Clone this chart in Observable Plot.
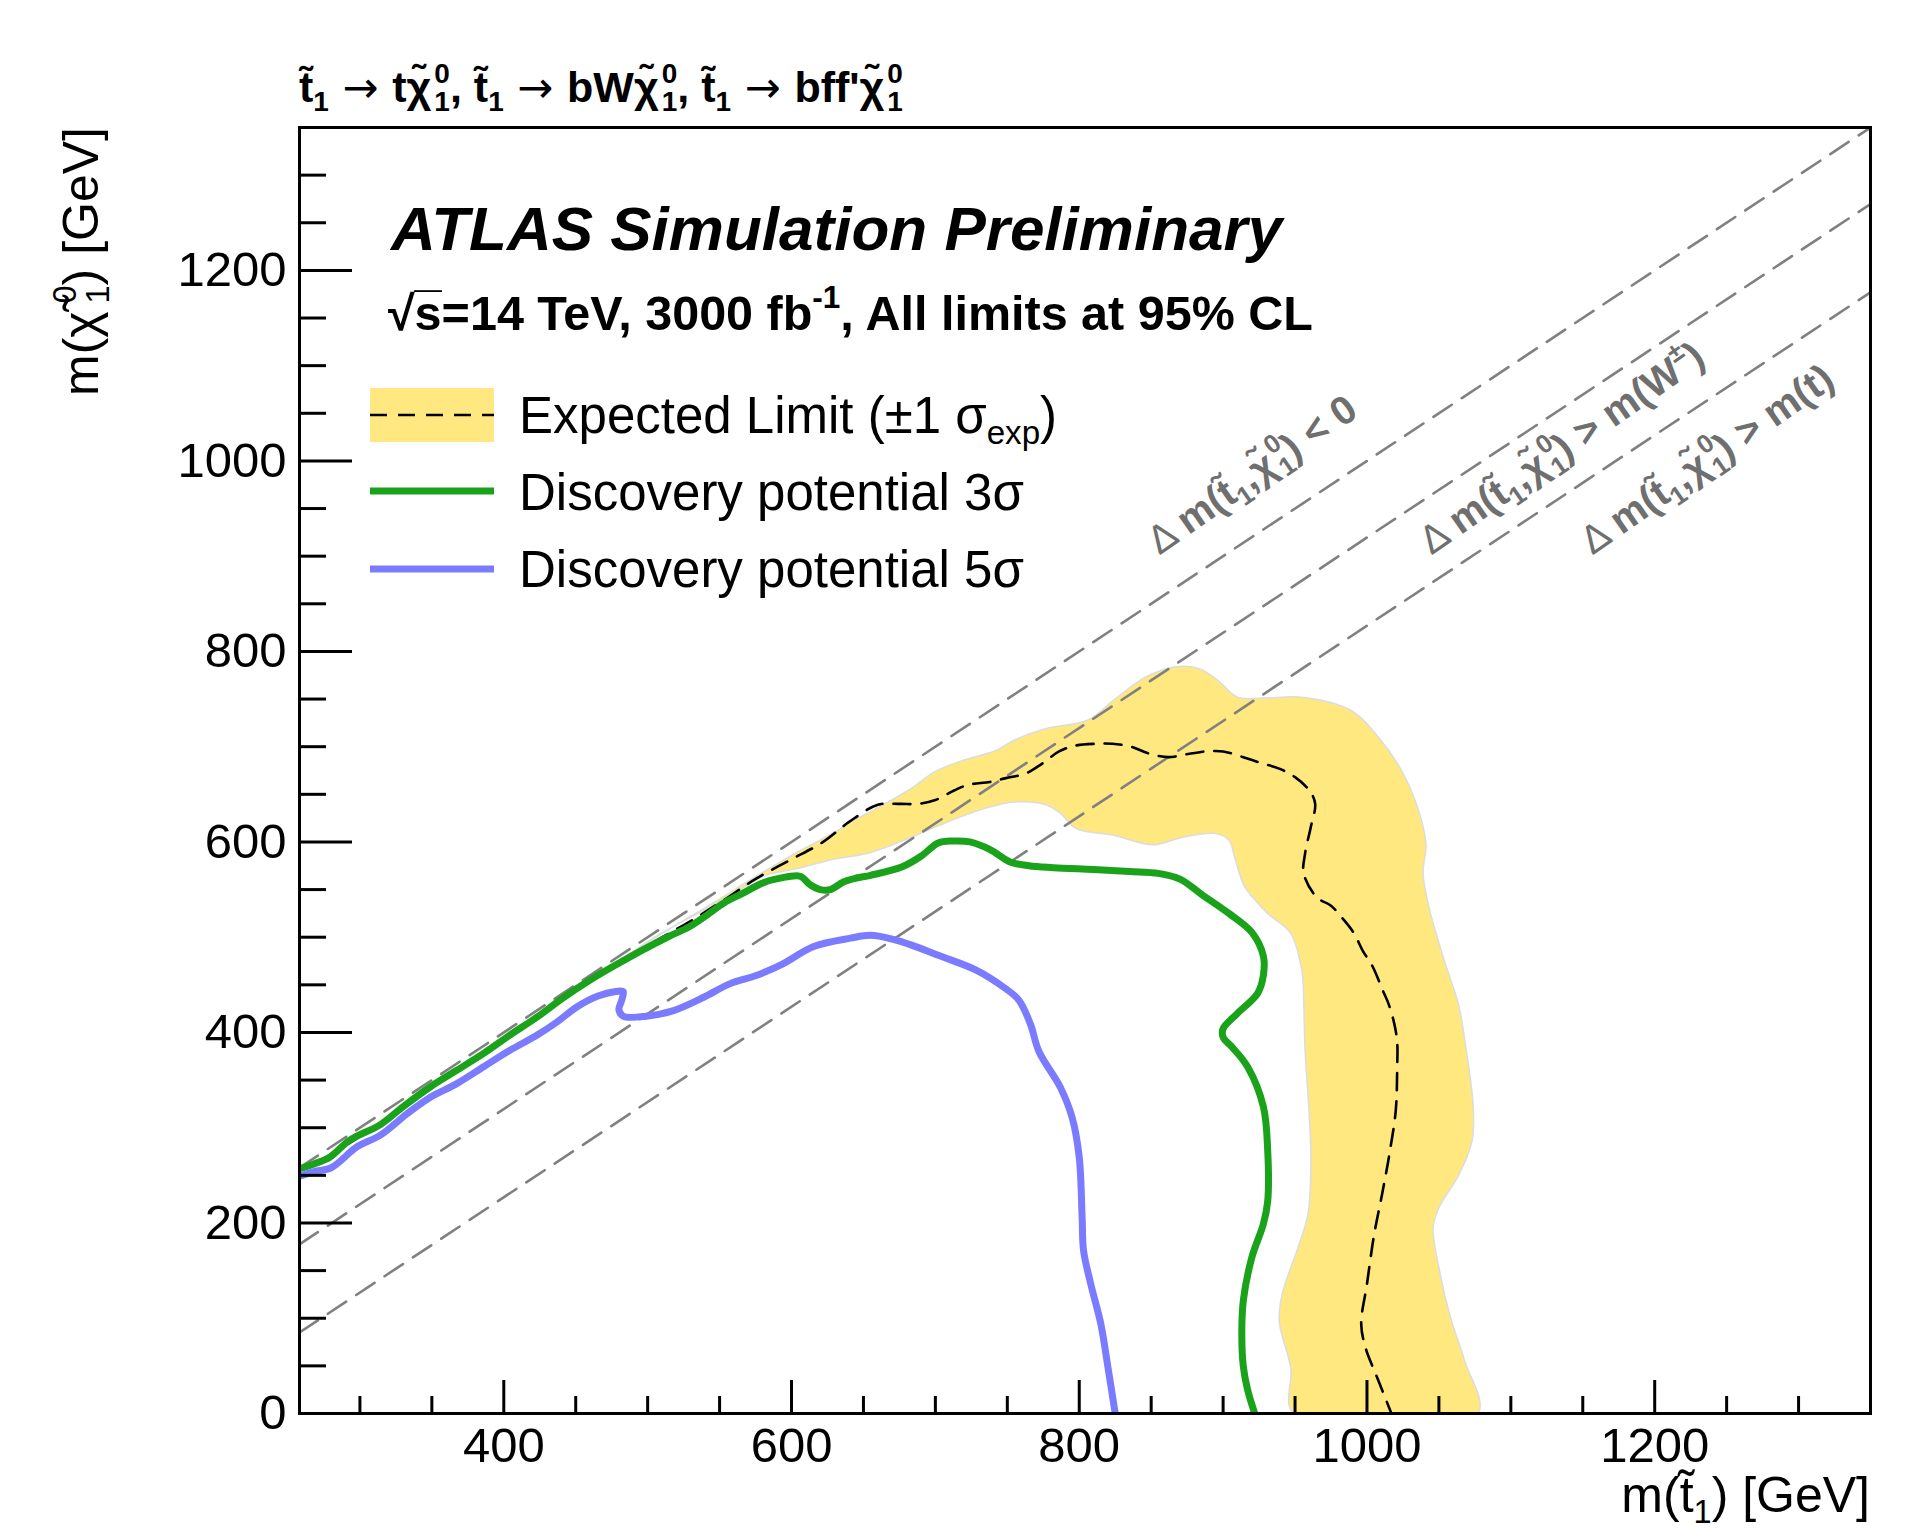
<!DOCTYPE html>
<html><head><meta charset="utf-8">
<script src="https://cdn.jsdelivr.net/npm/d3@7"></script>
<script src="https://cdn.jsdelivr.net/npm/@observablehq/plot@0.6"></script>
<style>
html,body{margin:0;padding:0;background:#fff;}
#chart{position:relative;width:1914px;height:1531px;overflow:hidden;}
</style></head><body><div id="chart"></div>
<script>
// ---- data ----
const xDomain = [258, 1350];
const yDomain = [0, 1350];
const xMajor = [400, 600, 800, 1000, 1200];
const xMinor = [300, 350, 450, 500, 550, 650, 700, 750, 850, 900, 950, 1050, 1100, 1150, 1250, 1300];
const yMajor = [0, 200, 400, 600, 800, 1000, 1200];
const yMinor = [50, 100, 150, 250, 300, 350, 450, 500, 550, 650, 700, 750, 850, 900, 950, 1050, 1100, 1150, 1250, 1300];
const diagOffsets = [0, 80.4, 173]; // Δm = 0, m(W), m(t)

const bandOuter = [[470,465],[490,485],[510,504],[530,522],[550,540],[570,559],[590,577],[605,590],[620,602],[632,612],[640,620],[660,636],[683,656],[700,674],[720,686],[742,696],[755,707],[777,719],[806,728],[824,749],[846,773],[867,784],[883,782],[896,770],[910,752],[928,751],[955,752],[989,738],[1008,710],[1024,675],[1035,637],[1041,598],[1039,567],[1043,532],[1053,479],[1064,427],[1069,381],[1072,350],[1074,318],[1073,286],[1064,251],[1050,216],[1046,195],[1050,153],[1058,101],[1068,55],[1077,0]];
const bandInner = [[949,0],[947,48],[939,97],[941,125],[952,174],[959,209],[961,265],[960,311],[957,381],[956,433],[955,462],[947,504],[931,525],[915,553],[908,584],[904,602],[894,609],[872,605],[851,597],[824,607],[798,614],[787,630],[777,639],[755,642],[734,635],[702,617],[685,606],[655,589],[627,581],[604,572],[580,564],[557,543],[530,521],[505,500],[485,480],[470,465]];

const expected = [[258,257],[280,272],[300,291],[330,321],[360,352],[400,393],[430,423],[462,457],[483,476],[509,499],[531,518],[553,539],[576,562],[599,581],[622,600],[640,621],[660,639],[675,640],[688,640],[700,644],[713,654],[723,660],[738,663],[749,667],[763,672],[774,682],[786,695],[797,701],[811,703],[823,703],[836,700],[848,693],[862,689],[874,692],[888,695],[900,695],[914,689],[926,683],[939,677],[950,668],[960,654],[964,640],[961,616],[957,588],[956,567],[965,542],[975,533],[984,518],[991,504],[997,486],[1004,469],[1011,444],[1015,430],[1019,409],[1021,390],[1021,363],[1020,318],[1016,276],[1011,234],[1005,188],[1000,136],[996,94],[999,69],[1007,38],[1017,0]];

const disc3 = [[258,257],[268,262],[279,269],[293,287],[314,303],[330,322],[349,343],[367,360],[386,378],[404,397],[423,416],[441,436],[460,455],[478,471],[497,487],[515,501],[529,511],[541,523],[553,536],[566,546],[580,557],[592,562],[606,564],[613,555],[620,550],[627,550],[636,558],[645,562],[655,565],[677,574],[690,585],[702,599],[712,601],[724,600],[738,592],[752,579],[765,575],[782,573],[810,571],[835,569],[855,567],[870,561],[885,545],[904,525],[920,505],[928,480],[928,460],[924,441],[910,420],[900,404],[900,395],[906,385],[917,364],[928,322],[931,276],[931,223],[928,199],[920,164],[914,118],[913,83],[914,50],[917,25],[922,0]];

const disc5 = [[258,249],[268,254],[280,258],[298,280],[314,292],[333,315],[349,332],[367,346],[386,364],[404,381],[423,397],[437,411],[451,427],[465,438],[478,443],[483,443],[482,434],[480,424],[483,417],[499,417],[518,423],[539,437],[557,451],[576,460],[594,472],[615,490],[641,499],[655,502],[670,498],[683,492],[702,481],[729,465],[747,448],[758,434],[766,409],[772,380],[787,342],[795,311],[800,269],[802,206],[803,171],[808,136],[815,94],[820,48],[825,0]];

const diagLabelPos = [[856, 900], [1045, 900], [1157, 900]];

// ---- layout ----
const W = 1914, H = 1531, mL = 299, mR = 44, mT = 127, mB = 118;
const fw = W - mL - mR, fh = H - mT - mB;
const FONT = "'Liberation Sans', Arial, Helvetica, sans-serif";
const YELLOW = "#ffe880", GREEN = "#1aa31a", BLUE = "#7b7bff", GRAY = "#808080";

const band = bandOuter.concat(bandInner);
const diag = diagOffsets.flatMap((o, i) => [
  {x: xDomain[0], y: xDomain[0] - o, k: i},
  {x: xDomain[1], y: xDomain[1] - o, k: i}
]);
const fmt = d => String(d);

const plot = Plot.plot({
  width: W, height: H,
  marginLeft: mL, marginRight: mR, marginTop: mT, marginBottom: mB,
  x: {domain: xDomain, axis: null},
  y: {domain: yDomain, axis: null},
  style: {fontFamily: FONT, background: "white", color: "black"},
  marks: [
    Plot.line(band, {x: d => d[0], y: d => d[1], fill: YELLOW, stroke: "#dcdcdc", strokeWidth: 1.5, curve: "catmull-rom", clip: true}),
    Plot.line(diag, {x: "x", y: "y", z: "k", stroke: GRAY, strokeWidth: 2.6, strokeDasharray: "22,12", clip: true}),
    Plot.line(expected, {x: d => d[0], y: d => d[1], stroke: "black", strokeWidth: 2.6, strokeDasharray: "17,11", curve: "catmull-rom", clip: true}),
    Plot.line(disc3, {x: d => d[0], y: d => d[1], stroke: GREEN, strokeWidth: 7, curve: "catmull-rom", clip: true}),
    Plot.line(disc5, {x: d => d[0], y: d => d[1], stroke: BLUE, strokeWidth: 7, curve: "catmull-rom", clip: true}),
    Plot.tickX(xMajor, {x: d => d, insetTop: fh - 33, stroke: "black", strokeWidth: 3}),
    Plot.tickX(xMinor, {x: d => d, insetTop: fh - 17, stroke: "black", strokeWidth: 3}),
    Plot.tickY(yMajor, {y: d => d, insetRight: fw - 53, stroke: "black", strokeWidth: 3}),
    Plot.tickY(yMinor, {y: d => d, insetRight: fw - 27, stroke: "black", strokeWidth: 3}),
    Plot.frame({stroke: "black", strokeWidth: 3}),
    Plot.axisX(xMajor, {tickSize: 0, tickPadding: 14, fontSize: 49, label: null, fill: "black", tickFormat: fmt}),
    Plot.axisY(yMajor, {tickSize: 0, tickPadding: 13, fontSize: 49, label: null, fill: "black", tickFormat: fmt})
  ]
});
document.getElementById("chart").appendChild(plot);

const svg = d3.select(plot);
const sx = plot.scale("x"), sy = plot.scale("y");
const g = svg.append("g").attr("font-family", FONT);

function rich(x, y, parts, o) {
  const size = o.size;
  const t = g.append("text")
    .attr("transform", `translate(${x},${y}) rotate(${o.rotate || 0})`)
    .attr("font-size", size)
    .attr("font-weight", o.weight || "normal")
    .attr("font-style", o.style || "normal")
    .attr("fill", o.fill || "black")
    .attr("text-anchor", o.anchor || "start");
  let cur = 0, prev = null;
  for (const p of parts) {
    const s = typeof p === "string" ? {t: p} : p;
    const fs = (s.sup || s.sub) ? size * 0.65 : size;
    const off = s.sup ? -size * 0.45 : s.sub ? size * 0.22 : 0;
    const ts = t.append("tspan").attr("font-size", fs).attr("dy", off - cur).text(s.t);
    if (s.w) ts.attr("font-weight", s.w);
    if (s.f) ts.attr("font-family", s.f);
    if (s.gap) ts.attr("dx", s.gap * size);
    cur = off;
    if (s.stack && prev) ts.attr("dx", -prev.node().getComputedTextLength());
    prev = ts;
  }
  return t;
}
const T = "t\u0303", CHI = "\u03c7\u0303";
const ARROW = {t: " \u2192 ", f: "'DejaVu Sans', sans-serif", w: "normal"};
const SUP0 = {t: "0", sup: 1, gap: 0.07};
const SUP0W = {t: "0", sup: 1, gap: 0.16};

// top title
rich(299, 102, [T, {t: "1", sub: 1}, ARROW, "t", CHI, SUP0, {t: "1", sub: 1, stack: 1},
  ", ", T, {t: "1", sub: 1}, ARROW, "bW", CHI, SUP0, {t: "1", sub: 1, stack: 1},
  ", ", T, {t: "1", sub: 1}, ARROW, "bff'", CHI, SUP0, {t: "1", sub: 1, stack: 1}],
  {size: 43, weight: "bold"});

// ATLAS label
rich(391, 250, ["ATLAS Simulation Preliminary"], {size: 62, weight: "bold", style: "italic"});
rich(388, 330, ["\u221as\u0305=14 TeV, 3000 fb", {t: "-1", sup: 1}, ", All limits at 95% CL"], {size: 48.5, weight: "bold"});

// legend
g.append("rect").attr("x", 370).attr("y", 388).attr("width", 124).attr("height", 54).attr("fill", YELLOW);
g.append("line").attr("x1", 370).attr("x2", 494).attr("y1", 415).attr("y2", 415)
  .attr("stroke", "black").attr("stroke-width", 2.6).attr("stroke-dasharray", "17,11");
g.append("line").attr("x1", 370).attr("x2", 494).attr("y1", 491).attr("y2", 491)
  .attr("stroke", GREEN).attr("stroke-width", 7);
g.append("line").attr("x1", 370).attr("x2", 494).attr("y1", 569).attr("y2", 569)
  .attr("stroke", BLUE).attr("stroke-width", 7);
rich(519, 433, ["Expected Limit (\u00b11 \u03c3", {t: "exp", sub: 1}, ")"], {size: 51});
rich(519, 510, ["Discovery potential 3\u03c3"], {size: 51});
rich(519, 587, ["Discovery potential 5\u03c3"], {size: 51});

// axis titles
rich(1870, 1512, ["m(", T, {t: "1", sub: 1}, ") [GeV]"], {size: 50, anchor: "end"});
rich(98, 127, ["m(", CHI, SUP0W, {t: "1", sub: 1, stack: 1}, ") [GeV]"], {size: 50, anchor: "end", rotate: -90});

// diagonal labels
const ang = -Math.atan2(sy.apply(0) - sy.apply(1000), sx.apply(1000) - sx.apply(0)) * 180 / Math.PI;
const common = [{t: "\u0394 ", w: "normal"}, "m(", T, {t: "1", sub: 1}, ",", CHI, SUP0, {t: "1", sub: 1, stack: 1}];
const tails = [[") < 0"], [") > m(W", {t: "\u00b1", sup: 1}, ")"], [") > m(t)"]];
diagLabelPos.forEach(([x, y], i) => {
  rich(sx.apply(x), sy.apply(y), common.concat(tails[i]), {size: 40, weight: "bold", fill: "#6f6f6f", rotate: ang - 1.5});
});
</script></body></html>
